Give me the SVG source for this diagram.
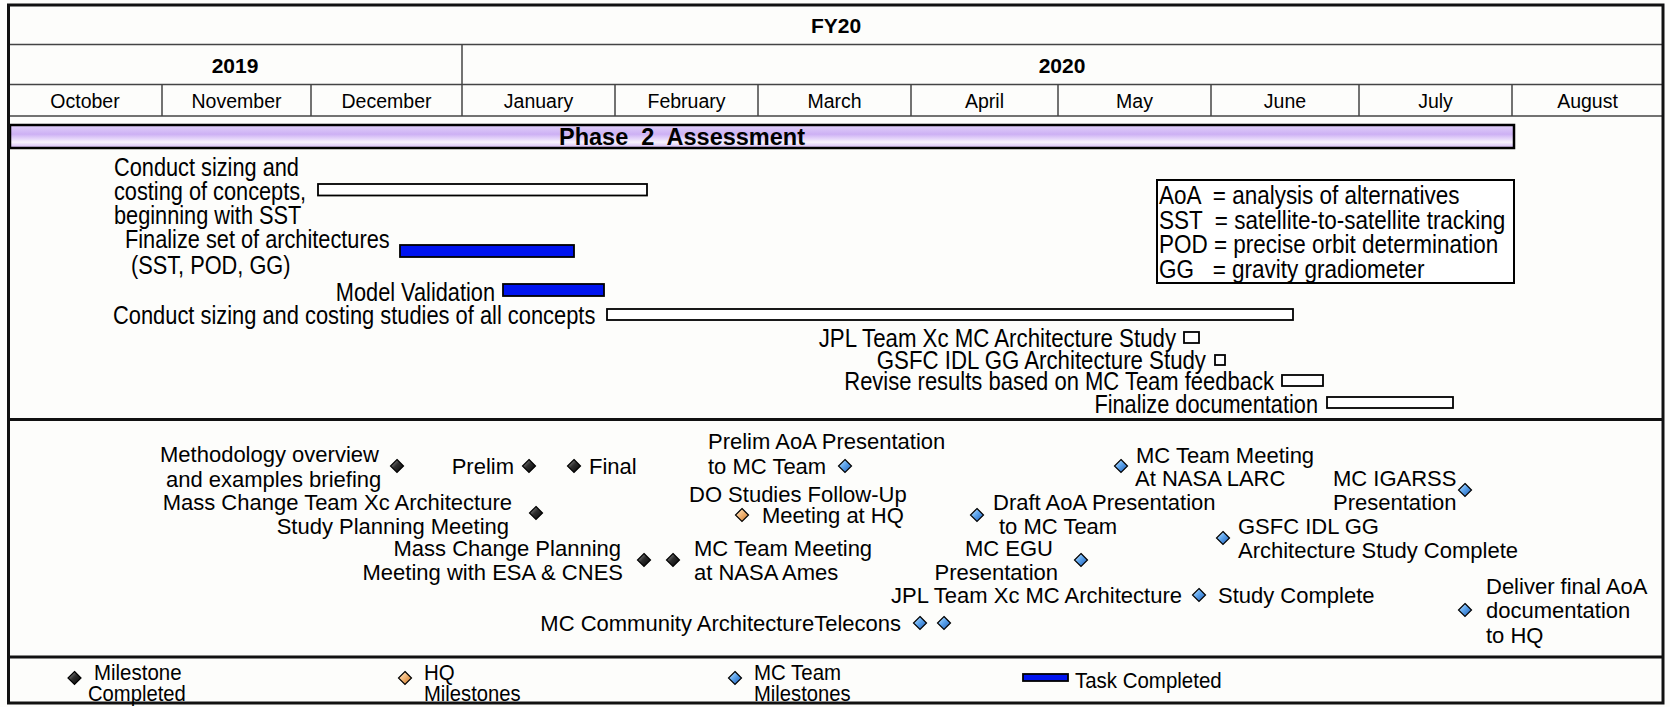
<svg xmlns="http://www.w3.org/2000/svg" width="1670" height="707" viewBox="0 0 1670 707">
<defs>
<style>
text{font-family:'Liberation Sans',Arial,sans-serif;fill:#000;white-space:pre}
.hdr{font-weight:bold;font-size:21px;text-anchor:middle}
.mon{font-size:19.5px;text-anchor:middle}
.grid{stroke:#444;stroke-width:1.5;fill:none}
.frame{stroke:#111;stroke-width:3;fill:none}
.sep{stroke:#111;stroke-width:3}
.task{font-size:25px}
.ms{font-size:22px}
.lg{font-size:22px}
.end{text-anchor:end}
.open{fill:#fff;stroke:#000;stroke-width:1.8}
.done{fill:#0014f0;stroke:#000;stroke-width:1.8}
.dk{fill:url(#dkFill);stroke:#000;stroke-width:1.2}
.bl{fill:url(#blFill);stroke:#000;stroke-width:1.2}
.or{fill:url(#orFill);stroke:#000;stroke-width:1.2}
</style>
<linearGradient id="phaseFill" x1="0" y1="0" x2="0" y2="1">
<stop offset="0" stop-color="#e2d2fa"/>
<stop offset="0.4" stop-color="#cdb0f4"/>
<stop offset="0.75" stop-color="#f8f3fe"/>
<stop offset="1" stop-color="#d0b4f5"/>
</linearGradient>
<linearGradient id="dkFill" x1="0" y1="0" x2="1" y2="1">
<stop offset="0" stop-color="#a8a8a8"/>
<stop offset="0.45" stop-color="#2e2e2e"/>
<stop offset="1" stop-color="#000"/>
</linearGradient>
<linearGradient id="blFill" x1="0" y1="0" x2="1" y2="1">
<stop offset="0" stop-color="#dcefff"/>
<stop offset="0.45" stop-color="#5ea6ee"/>
<stop offset="1" stop-color="#1a56b0"/>
</linearGradient>
<linearGradient id="orFill" x1="0" y1="0" x2="1" y2="1">
<stop offset="0" stop-color="#fff1de"/>
<stop offset="0.45" stop-color="#f4b97a"/>
<stop offset="1" stop-color="#c66e20"/>
</linearGradient>
<path id="dia" d="M0,-6.5L6.5,0L0,6.5L-6.5,0Z"/>
</defs>

<rect x="0" y="0" width="1670" height="707" fill="#fdfdfb"/>

<!-- timeline header -->
<g id="header">
<line class="grid" x1="8.5" y1="44.5" x2="1663" y2="44.5"/>
<line class="grid" x1="8.5" y1="84.5" x2="1663" y2="84.5"/>
<line class="grid" x1="8.5" y1="116" x2="1663" y2="116"/>
<line class="grid" x1="462" y1="44.5" x2="462" y2="116"/>
<line class="grid" x1="162" y1="84.5" x2="162" y2="116"/>
<line class="grid" x1="311" y1="84.5" x2="311" y2="116"/>
<line class="grid" x1="615" y1="84.5" x2="615" y2="116"/>
<line class="grid" x1="758" y1="84.5" x2="758" y2="116"/>
<line class="grid" x1="911" y1="84.5" x2="911" y2="116"/>
<line class="grid" x1="1058" y1="84.5" x2="1058" y2="116"/>
<line class="grid" x1="1211" y1="84.5" x2="1211" y2="116"/>
<line class="grid" x1="1359" y1="84.5" x2="1359" y2="116"/>
<line class="grid" x1="1512" y1="84.5" x2="1512" y2="116"/>
<text class="hdr" x="836" y="33">FY20</text>
<text class="hdr" x="235" y="72.5">2019</text>
<text class="hdr" x="1062" y="72.5">2020</text>
<text class="mon" x="85" y="108">October</text>
<text class="mon" x="236.5" y="108">November</text>
<text class="mon" x="386.5" y="108">December</text>
<text class="mon" x="538.5" y="108">January</text>
<text class="mon" x="686.5" y="108">February</text>
<text class="mon" x="834.5" y="108">March</text>
<text class="mon" x="984.5" y="108">April</text>
<text class="mon" x="1134.5" y="108">May</text>
<text class="mon" x="1285" y="108">June</text>
<text class="mon" x="1435.5" y="108">July</text>
<text class="mon" x="1587.5" y="108">August</text>
</g>

<!-- phase summary bar -->
<g id="phase-2">
<rect x="10" y="125" width="1504" height="23" fill="url(#phaseFill)" stroke="#000" stroke-width="2.5"/>
<text x="682" y="145" font-size="23.5" font-weight="bold" text-anchor="middle">Phase  2  Assessment</text>
</g>

<!-- section separators and frame -->
<g id="frame">
<line class="sep" x1="8.5" y1="419.5" x2="1663" y2="419.5"/>
<line class="sep" x1="8.5" y1="657" x2="1663" y2="657"/>
<rect class="frame" x="8.5" y="5" width="1654.5" height="698"/>
</g>

<!-- tasks -->
<g id="task-sizing-sst">
<text class="task" transform="translate(114,176) scale(0.87,1)">Conduct sizing and</text>
<text class="task" transform="translate(114,199.5) scale(0.87,1)">costing of concepts,</text>
<text class="task" transform="translate(114,223.5) scale(0.87,1)">beginning with SST</text>
<rect class="open" x="318" y="184" width="329" height="11.5"/>
</g>
<g id="task-architectures">
<text class="task" transform="translate(125,248) scale(0.87,1)">Finalize set of architectures</text>
<text class="task" transform="translate(131,274) scale(0.87,1)">(SST, POD, GG)</text>
<rect class="done" x="400" y="245" width="174" height="12"/>
</g>
<g id="task-model-validation">
<text class="task end" transform="translate(495,300.5) scale(0.87,1)">Model Validation</text>
<rect class="done" x="503" y="284" width="101" height="12"/>
</g>
<g id="task-sizing-all">
<text class="task" transform="translate(113,324) scale(0.875,1)">Conduct sizing and costing studies of all concepts</text>
<rect class="open" x="607" y="309" width="686" height="11"/>
</g>
<g id="task-jpl-study">
<text class="task end" transform="translate(1176,346.5) scale(0.89,1)">JPL Team Xc MC Architecture Study</text>
<rect class="open" x="1184" y="332" width="15" height="11"/>
</g>
<g id="task-gsfc-study">
<text class="task end" transform="translate(1206,369) scale(0.89,1)">GSFC IDL GG Architecture Study</text>
<rect class="open" x="1215" y="355" width="10" height="10"/>
</g>
<g id="task-revise">
<text class="task end" transform="translate(1274,390) scale(0.88,1)">Revise results based on MC Team feedback</text>
<rect class="open" x="1282" y="375" width="41" height="11"/>
</g>
<g id="task-finalize-doc">
<text class="task end" transform="translate(1318,412.5) scale(0.87,1)">Finalize documentation</text>
<rect class="open" x="1327" y="397" width="126" height="11"/>
</g>

<!-- abbreviations -->
<g id="abbreviations">
<rect x="1157" y="180" width="357" height="103" fill="#fff" stroke="#000" stroke-width="2"/>
<text class="task" transform="translate(1159,204) scale(0.9,1)">AoA  = analysis of alternatives</text>
<text class="task" transform="translate(1159,228.5) scale(0.9,1)">SST  = satellite-to-satellite tracking</text>
<text class="task" transform="translate(1159,253) scale(0.9,1)">POD = precise orbit determination</text>
<text class="task" transform="translate(1159,277.5) scale(0.9,1)">GG   = gravity gradiometer</text>
</g>

<!-- milestones -->
<g id="ms-methodology">
<text class="ms" x="160" y="462">Methodology overview</text>
<text class="ms" x="166" y="486.5">and examples briefing</text>
<use href="#dia" class="dk" x="397" y="466"/>
</g>
<g id="ms-prelim">
<text class="ms end" x="514" y="474">Prelim</text>
<use href="#dia" class="dk" x="529" y="466"/>
</g>
<g id="ms-final">
<use href="#dia" class="dk" x="574" y="466"/>
<text class="ms" x="589" y="474">Final</text>
</g>
<g id="ms-xc-planning">
<text class="ms end" x="512" y="510">Mass Change Team Xc Architecture</text>
<text class="ms end" x="509" y="533.5">Study Planning Meeting</text>
<use href="#dia" class="dk" x="536" y="513"/>
</g>
<g id="ms-esa-cnes">
<text class="ms end" x="621" y="556">Mass Change Planning</text>
<text class="ms end" x="623" y="579.5">Meeting with ESA &amp; CNES</text>
<use href="#dia" class="dk" x="644" y="560"/>
</g>
<g id="ms-ames">
<use href="#dia" class="dk" x="673" y="560"/>
<text class="ms" x="694" y="556">MC Team Meeting</text>
<text class="ms" x="694" y="579.5">at NASA Ames</text>
</g>
<g id="ms-telecons">
<text class="ms end" x="901" y="630.5">MC Community ArchitectureTelecons</text>
<use href="#dia" class="bl" x="920" y="623"/>
<use href="#dia" class="bl" x="944" y="623"/>
</g>
<g id="ms-prelim-aoa">
<text class="ms" x="708" y="448.5">Prelim AoA Presentation</text>
<text class="ms" x="708" y="474">to MC Team</text>
<use href="#dia" class="bl" x="845" y="466"/>
</g>
<g id="ms-do-studies">
<text class="ms" x="689" y="502">DO Studies Follow-Up</text>
<use href="#dia" class="or" x="742" y="515"/>
<text class="ms" x="762" y="523">Meeting at HQ</text>
</g>
<g id="ms-draft-aoa">
<use href="#dia" class="bl" x="977" y="515"/>
<text class="ms" x="993" y="509.5">Draft AoA Presentation</text>
<text class="ms" x="999" y="533.5">to MC Team</text>
</g>
<g id="ms-egu">
<text class="ms end" x="1053" y="556">MC EGU</text>
<text class="ms end" x="1058" y="579.5">Presentation</text>
<use href="#dia" class="bl" x="1081" y="560"/>
</g>
<g id="ms-jpl-complete">
<text class="ms end" x="1182" y="602.5">JPL Team Xc MC Architecture</text>
<use href="#dia" class="bl" x="1199" y="595"/>
<text class="ms" x="1218" y="602.5">Study Complete</text>
</g>
<g id="ms-larc">
<use href="#dia" class="bl" x="1121" y="466"/>
<text class="ms" x="1136" y="462.5">MC Team Meeting</text>
<text class="ms" x="1135" y="485.5">At NASA LARC</text>
</g>
<g id="ms-igarss">
<text class="ms" x="1333" y="485.5">MC IGARSS</text>
<text class="ms" x="1333" y="509.5">Presentation</text>
<use href="#dia" class="bl" x="1465" y="490"/>
</g>
<g id="ms-gsfc-complete">
<use href="#dia" class="bl" x="1223" y="538"/>
<text class="ms" x="1238" y="533.5">GSFC IDL GG</text>
<text class="ms" x="1238" y="557.5">Architecture Study Complete</text>
</g>
<g id="ms-deliver">
<use href="#dia" class="bl" x="1465" y="610"/>
<text class="ms" x="1486" y="593.5">Deliver final AoA</text>
<text class="ms" x="1486" y="618">documentation</text>
<text class="ms" x="1486" y="642.5">to HQ</text>
</g>

<!-- key -->
<g id="key-completed">
<use href="#dia" class="dk" x="74.5" y="678"/>
<text class="lg" transform="translate(94,680) scale(0.93,1)">Milestone</text>
<text class="lg" transform="translate(88,701) scale(0.92,1)">Completed</text>
</g>
<g id="key-hq">
<use href="#dia" class="or" x="405" y="678"/>
<text class="lg" transform="translate(424,680) scale(0.93,1)">HQ</text>
<text class="lg" transform="translate(424,701) scale(0.92,1)">Milestones</text>
</g>
<g id="key-mc">
<use href="#dia" class="bl" x="735" y="678"/>
<text class="lg" transform="translate(754,680) scale(0.93,1)">MC Team</text>
<text class="lg" transform="translate(754,701) scale(0.92,1)">Milestones</text>
</g>
<g id="key-task">
<rect class="done" x="1023" y="674" width="45" height="7"/>
<text class="lg" transform="translate(1075,688) scale(0.93,1)">Task Completed</text>
</g>
</svg>
